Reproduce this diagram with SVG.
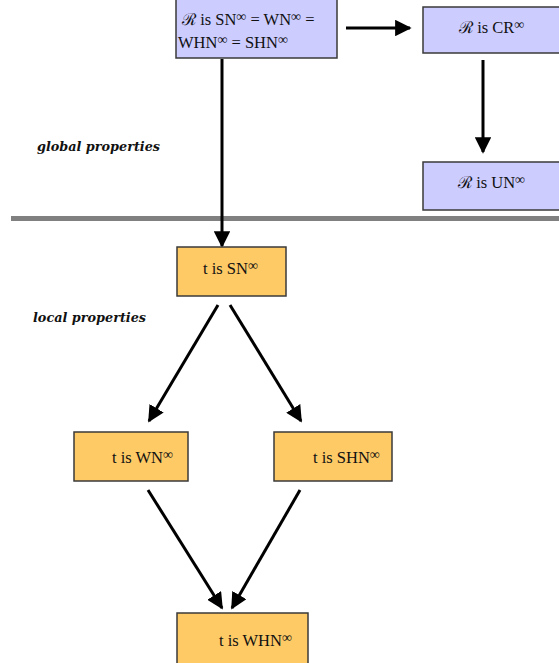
<svg xmlns="http://www.w3.org/2000/svg" width="559" height="663" viewBox="0 0 559 663">
<style>
.blue{fill:#ccccff;stroke:#3a3a3a;stroke-width:1.5}
.orange{fill:#fdca66;stroke:#3a3a3a;stroke-width:1.5}
.t{font-family:"Liberation Serif",serif;font-size:16.5px;fill:#111}
.sup{font-size:14px}
.lbl{font-family:"DejaVu Serif",serif;font-size:13px;font-style:italic;font-weight:bold;fill:#111}
.c{stroke:#000;stroke-width:3;fill:none;marker-end:url(#ah)}
</style>
<defs>
<marker id="ah" viewBox="0 0 10 10" refX="9" refY="5" markerWidth="5.5" markerHeight="5.5" orient="auto" markerUnits="strokeWidth">
<path d="M0,0 L10,5 L0,10 z" fill="#000"/>
</marker>
</defs>
<rect x="11" y="216" width="548" height="5" fill="#808080"/>
<text class="lbl" x="37" y="151" textLength="123" lengthAdjust="spacingAndGlyphs">global properties</text>
<text class="lbl" x="33" y="322" textLength="113" lengthAdjust="spacingAndGlyphs">local properties</text>
<g id="connectors">
<line class="c" x1="222" y1="59" x2="222" y2="246"/>
<line class="c" x1="346" y1="28" x2="410" y2="28"/>
<line class="c" x1="483" y1="60" x2="483" y2="152"/>
<line class="c" x1="218" y1="305" x2="149" y2="421"/>
<line class="c" x1="230" y1="305" x2="301" y2="421"/>
<line class="c" x1="148" y1="490" x2="222" y2="608"/>
<line class="c" x1="300" y1="490" x2="232" y2="608"/>
</g>
<g id="n1">
<rect class="blue" x="176" y="-1" width="161" height="59"/>
<text class="t" x="182" y="25">ℛ is SN<tspan class="sup" dy="-4">∞</tspan><tspan dy="4"> = WN</tspan><tspan class="sup" dy="-4">∞</tspan><tspan dy="4"> =</tspan></text>
<text class="t" x="178" y="48">WHN<tspan class="sup" dy="-4">∞</tspan><tspan dy="4"> = SHN</tspan><tspan class="sup" dy="-4">∞</tspan></text>
</g>
<g id="n2">
<rect class="blue" x="423" y="7" width="140" height="46"/>
<text class="t" x="459" y="33">ℛ  is CR<tspan class="sup" dy="-4">∞</tspan></text>
</g>
<g id="n3">
<rect class="blue" x="423" y="162" width="140" height="48"/>
<text class="t" x="458" y="188">ℛ  is UN<tspan class="sup" dy="-4">∞</tspan></text>
</g>
<g id="n4">
<rect class="orange" x="177" y="247" width="109" height="49"/>
<text class="t" x="203" y="274">t is SN<tspan class="sup" dy="-4">∞</tspan></text>
</g>
<g id="n5">
<rect class="orange" x="74" y="432" width="114" height="49"/>
<text class="t" x="112" y="463">t is WN<tspan class="sup" dy="-4">∞</tspan></text>
</g>
<g id="n6">
<rect class="orange" x="274" y="432" width="118" height="49"/>
<text class="t" x="313" y="463">t is SHN<tspan class="sup" dy="-4">∞</tspan></text>
</g>
<g id="n7">
<rect class="orange" x="177" y="613" width="131" height="52"/>
<text class="t" x="219" y="646">t is WHN<tspan class="sup" dy="-4">∞</tspan></text>
</g>
</svg>
